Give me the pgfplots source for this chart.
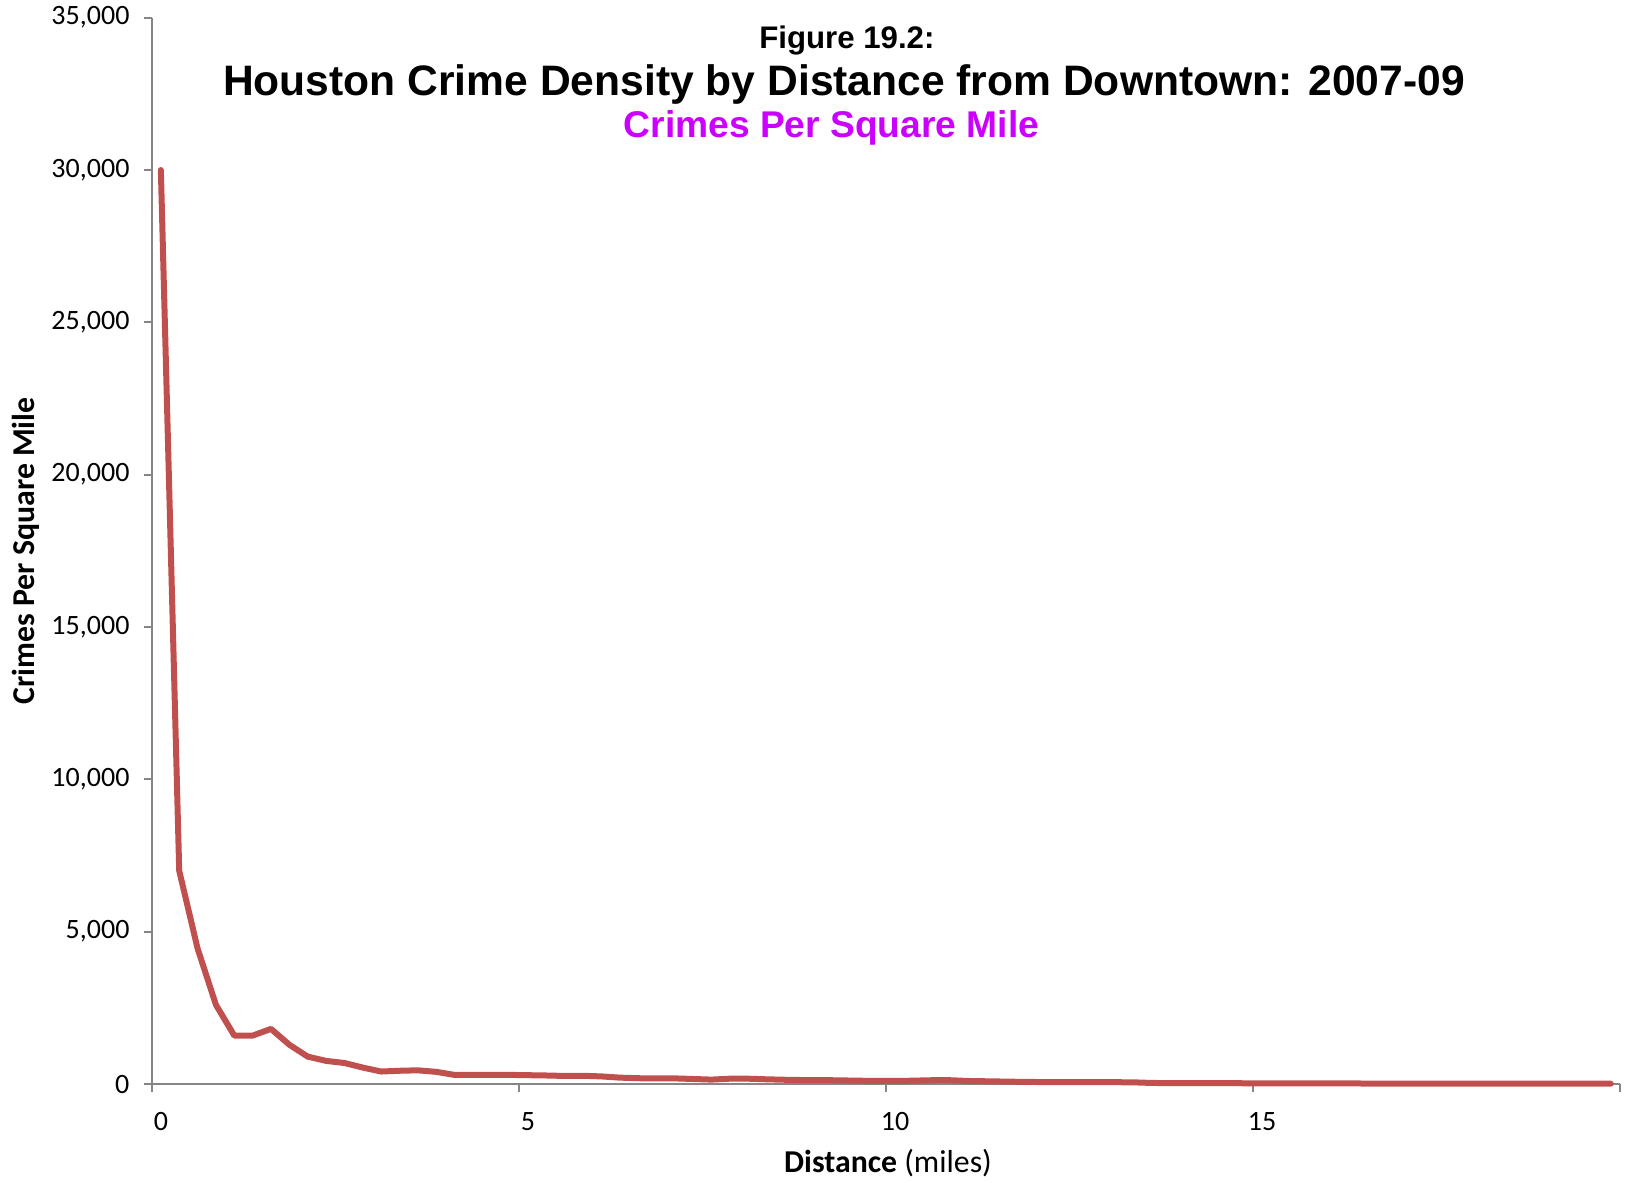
\documentclass[border=0pt]{standalone}
\usepackage{fontspec}
\setmainfont{Carlito}
\newfontfamily\arialfont{Liberation Sans}
\usepackage{pgfplots}
\pgfplotsset{compat=1.18}
\definecolor{linered}{RGB}{192,80,77}
\definecolor{axgray}{RGB}{134,134,134}
\definecolor{submag}{RGB}{204,0,255}
\pgfplotstableread{
x y
0 30000
0.25 7000
0.5 4450
0.75 2600
1.0 1590
1.25 1590
1.5 1810
1.75 1290
2.0 900
2.25 760
2.5 690
2.75 540
3.0 410
3.25 435
3.5 450
3.75 400
4.0 300
4.25 300
4.5 300
4.75 300
5.0 290
5.25 280
5.5 265
5.75 270
6.0 250
6.25 210
6.5 190
6.75 185
7.0 185
7.25 165
7.5 145
7.75 175
8.0 175
8.25 155
8.5 140
8.75 130
9.0 130
9.25 120
9.5 110
9.75 100
10.0 100
10.25 110
10.5 125
10.75 125
11.0 100
11.25 90
11.5 80
11.75 70
12.0 65
12.25 65
12.5 65
12.75 65
13.0 60
13.25 55
13.5 35
13.75 30
14.0 30
14.25 30
14.5 30
14.75 25
15.0 22
15.25 22
15.5 20
15.75 20
16.0 18
16.25 18
16.5 16
16.75 16
17.0 15
17.25 15
17.5 14
17.75 14
18.0 13
18.25 12
18.5 12
18.75 11
19.0 10
19.25 10
19.5 10
19.75 10
}\crimedata
\begin{document}
\begin{tikzpicture}
\useasboundingbox (-75.85pt,-49pt) rectangle (738.7pt,542.05pt);
\begin{axis}[
  at={(0,0)}, anchor=south west,
  scale only axis, width=734.2pt, height=533.2pt,
  xmin=-0.125, xmax=19.875, ymin=0, ymax=35000,
  axis x line*=bottom, axis y line*=left,
  axis line style={axgray, line width=1pt, -},
  every tick/.style={axgray, line width=1pt},
  tick align=outside, major tick length=4pt,
  xtick={-0.125,4.875,9.875,14.875,19.875},
  xticklabels={},
  extra x ticks={0,5,10,15},
  extra x tick labels={0,5,10,15},
  extra x tick style={major tick length=0pt, xticklabel style={yshift=-10.5pt}},
  ytick={0,5000,10000,15000,20000,25000,30000,35000},
  scaled y ticks=false,
  /pgf/number format/assume math mode=true,
  yticklabel={\pgfmathprintnumber[1000 sep={,}]{\tick}},
  tick label style={font=\fontsize{14}{16}\selectfont},
  yticklabel style={xshift=-3.6pt},
  xlabel={\textbf{Distance} (miles)},
  ylabel={\textbf{Crimes Per Square Mile}},
  label style={font=\fontsize{15.9}{18}\selectfont},
  xlabel style={at={(axis description cs:0.5015,0)}, anchor=base, yshift=-44pt},
  ylabel style={at={(axis description cs:-0.0856,0.5)}, anchor=center},
  clip=false,
]
\addplot[linered, line width=3pt, line join=round, line cap=round] table[x=x,y=y] {\crimedata};
\node[anchor=base, font=\arialfont\bfseries\fontsize{15.6}{18}\selectfont] at (rel axis cs:0.4735,0.9715) {Figure 19.2:};
\node[anchor=base, font=\arialfont\bfseries\fontsize{21.3}{24}\selectfont] at (rel axis cs:0.4715,0.9270) {Houston Crime Density by Distance from Downtown: 2007-09};
\node[anchor=base, text=submag, font=\arialfont\bfseries\fontsize{18.6}{21}\selectfont] at (rel axis cs:0.4630,0.8875) {Crimes Per Square Mile};
\end{axis}
\end{tikzpicture}
\end{document}
